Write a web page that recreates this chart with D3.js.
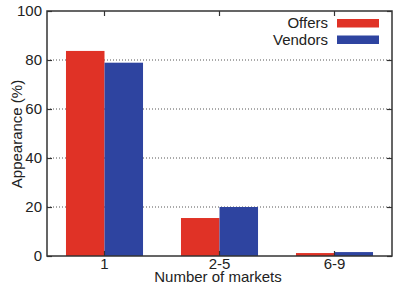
<!DOCTYPE html>
<html>
<head>
<meta charset="utf-8">
<script src="https://d3js.org/d3.v7.min.js"></script>
<style>
body { margin: 0; background: #fff; }
text { font-family: "Liberation Sans", Arial, sans-serif; fill: #222; }
</style>
</head>
<body>
<div id="chart"></div>
<script>
// data
var categories = ["1", "2-5", "6-9"];
var offers = [83.7, 15.5, 1.2];
var vendors = [78.9, 20.0, 1.6];
var seriesNames = ["Offers", "Vendors"];
var seriesColors = ["#e03226", "#2e44a0"];
var yTicks = [0, 20, 40, 60, 80, 100];

var svgWidth = 394;
var svgHeight = 285;
var margin = { top: 11, right: 2, bottom: 29, left: 47 };
var width = svgWidth - margin.left - margin.right;
var height = svgHeight - margin.top - margin.bottom;

var svg = d3.select("#chart").append("svg")
    .attr("width", svgWidth)
    .attr("height", svgHeight);

var chartGroup = svg.append("g")
    .attr("transform", `translate(${margin.left}, ${margin.top})`);

var x0 = d3.scaleBand().domain(categories).range([0, width]).paddingInner(0).paddingOuter(0);
var innerPad = 0.165;
var x1 = d3.scaleBand().domain(seriesNames)
    .range([x0.bandwidth() * innerPad, x0.bandwidth() * (1 - innerPad)]);
var y = d3.scaleLinear().domain([0, 100]).range([height, 0]);

// dotted grid
chartGroup.selectAll(".grid")
    .data(yTicks.filter(d => d > 0 && d < 100))
    .enter()
    .append("line")
    .attr("x1", 0).attr("x2", width)
    .attr("y1", d => y(d)).attr("y2", d => y(d))
    .attr("stroke", "#555")
    .attr("stroke-width", 1)
    .attr("stroke-dasharray", "1,2");

// bars
var rows = categories.map((c, i) => ({ cat: c, vals: [offers[i], vendors[i]] }));
var groups = chartGroup.selectAll(".grp")
    .data(rows)
    .enter()
    .append("g")
    .attr("transform", d => `translate(${x0(d.cat)},0)`);

groups.selectAll("rect")
    .data(d => d.vals.map((v, j) => ({ name: seriesNames[j], v: v, j: j })))
    .enter()
    .append("rect")
    .attr("x", d => x1(d.name))
    .attr("width", x1.bandwidth())
    .attr("y", d => y(d.v))
    .attr("height", d => y(0) - y(d.v))
    .attr("fill", d => seriesColors[d.j]);

// axes
var leftAxis = d3.axisLeft(y).tickValues(yTicks).tickSize(-5).tickPadding(5).tickFormat(d3.format("d"));
var rightAxis = d3.axisRight(y).tickValues(yTicks).tickSize(-5).tickFormat("");
var bottomAxis = d3.axisBottom(x0).tickSize(-5).tickPadding(2);
var topAxis = d3.axisTop(x0).tickSize(-5).tickFormat("");

function styleAxis(g) {
    g.select(".domain").remove();
    g.selectAll(".tick line").attr("stroke", "#333").attr("stroke-width", 1.2);
    g.selectAll(".tick text").attr("font-size", 15).attr("fill", "#222")
        .attr("font-family", "Liberation Sans, Arial, sans-serif");
}

chartGroup.append("g").call(leftAxis).call(styleAxis);
chartGroup.append("g").attr("transform", `translate(${width},0)`).call(rightAxis).call(styleAxis);
chartGroup.append("g").attr("transform", `translate(0,${height})`).call(bottomAxis).call(styleAxis);
chartGroup.append("g").call(topAxis).call(styleAxis);

// frame
chartGroup.append("rect")
    .attr("width", width).attr("height", height)
    .attr("fill", "none")
    .attr("stroke", "#333")
    .attr("stroke-width", 1.5);

// axis labels
chartGroup.append("text")
    .attr("x", width / 2 - 1.5)
    .attr("y", height + 25.5)
    .attr("text-anchor", "middle")
    .attr("font-size", 15)
    .text("Number of markets");

chartGroup.append("text")
    .attr("transform", "rotate(-90)")
    .attr("x", -123)
    .attr("y", -25)
    .attr("text-anchor", "middle")
    .attr("font-size", 15)
    .text("Appearance (%)");

// legend
var legend = chartGroup.append("g")
    .attr("transform", `translate(${width - 64}, 8)`);

var legendItems = legend.selectAll(".li")
    .data(seriesNames)
    .enter()
    .append("g")
    .attr("transform", (d, i) => `translate(0, ${i * 16.5})`);

legendItems.append("rect")
    .attr("x", 9).attr("y", 0)
    .attr("width", 42).attr("height", 8.5)
    .attr("fill", (d, i) => seriesColors[i]);

legendItems.append("text")
    .attr("x", 0).attr("y", 9)
    .attr("text-anchor", "end")
    .attr("font-size", 15)
    .text(d => d);
</script>
</body>
</html>
